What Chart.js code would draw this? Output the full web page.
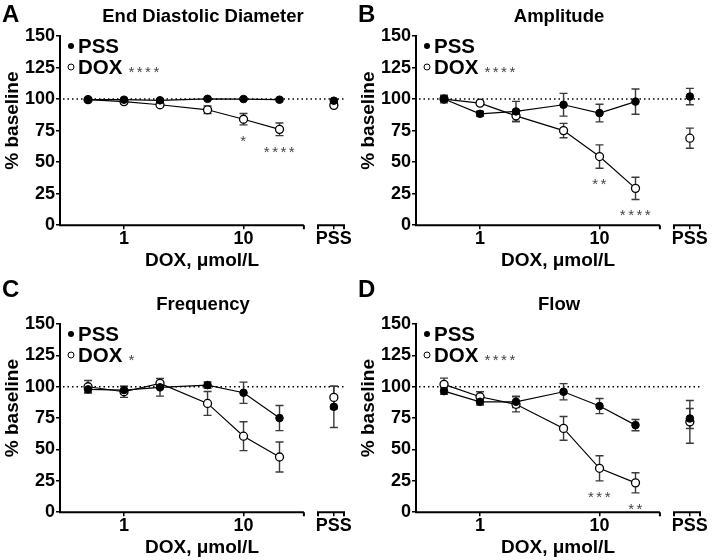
<!DOCTYPE html>
<html>
<head>
<meta charset="utf-8">
<script src="https://cdn.jsdelivr.net/npm/chart.js@4.4.0/dist/chart.umd.min.js"></script>
<style>
  body { margin: 0; background: #fff; }
  #grid { display: grid; grid-template-columns: 356px 356px; grid-template-rows: 280px 280px; width: 712px; }
  canvas { display: block; }
</style>
</head>
<body>
<div id="grid">
  <canvas id="pA" width="356" height="280"></canvas>
  <canvas id="pB" width="356" height="280"></canvas>
  <canvas id="pC" width="356" height="280"></canvas>
  <canvas id="pD" width="356" height="280"></canvas>
</div>
<script>
// doses on the log axis, plus where the PSS-only column sits
const doses = [0.5, 1, 2, 5, 10, 20];
const doseTicks = [1, 10];
const pssPos = 57;

// A - End diastolic diameter (% baseline, mean and SEM)
const eddPss = [99.5, 99.5, 99, 100.2, 100, 99.5];
const eddPssErr = [1, 1, 1, 1, 1, 1];
const eddDox = [99.5, 98, 95.5, 91.5, 84, 76];
const eddDoxErr = [1, 1.5, 1.5, 3, 4.5, 5];
const eddCtl = [98.7, 95];      // PSS column: PSS, DOX
const eddCtlErr = [1, 1];
const eddStars = ['', '', '', '', '*', '****'];

// B - Amplitude
const ampPss = [100, 88.3, 90.2, 95.5, 88.9, 98];
const ampPssErr = [3, 2, 8, 9, 7, 10];
const ampDox = [100, 96.8, 86.7, 75, 54.4, 29.2];
const ampDoxErr = [2, 1.5, 4.5, 5.7, 9.3, 8.8];
const ampCtl = [102, 69];
const ampCtlErr = [6.5, 8];
const ampStars = ['', '', '', '', '**', '****'];

// C - Frequency
const frqPss = [97.9, 97.3, 99.5, 101.3, 95.2, 75];
const frqPssErr = [2.5, 3, 7, 2.5, 8.5, 10];
const frqDox = [100, 96, 102.7, 86.7, 60.6, 44];
const frqDoxErr = [5, 4.5, 4, 9.5, 11.5, 12];
const frqCtl = [84, 91.5];
const frqCtlErr = [16.5, 9];
const frqStars = ['', '', '', '', '', ''];

// D - Flow
const flwPss = [96.5, 88, 88, 96, 84.6, 69.4];
const flwPssErr = [2.5, 2.5, 4.5, 6.5, 6, 4.5];
const flwDox = [101.9, 92, 86, 66.8, 35, 23.4];
const flwDoxErr = [5, 4, 6, 9.5, 10, 8];
const flwCtl = [74.7, 72];
const flwCtlErr = [8, 17];
const flwStars = ['', '', '', '', '***', '**'];

const letters = ['A', 'B', 'C', 'D'];
const titles = ['End Diastolic Diameter', 'Amplitude', 'Frequency', 'Flow'];
const legendStars = ['****', '****', '*', '****'];

const FONT = "'Liberation Sans', Arial, Helvetica, sans-serif";
Chart.defaults.font.family = FONT;
Chart.defaults.color = '#000';

// x range in dose units, and where the axis line breaks
const xMin = 0.2913, xMax = 69.3, mainEnd = 32, ctlStart = 42;

function drawStars(ctx, s, x, y) {
  ctx.letterSpacing = '2.5px';
  ctx.fillText(s, x, y);
  ctx.letterSpacing = '0px';
}

const panelText = {
  id: 'panelText',
  beforeDatasetsDraw(chart, args, o) {
    const {ctx, chartArea: a, scales: {x, y}} = chart;
    ctx.save();
    // dotted 100% line
    ctx.strokeStyle = '#000';
    ctx.lineWidth = 1.5;
    ctx.setLineDash([1.5, 3]);
    const y100 = y.getPixelForValue(100);
    ctx.beginPath();
    ctx.moveTo(a.left + 3, y100);
    ctx.lineTo(a.right, y100);
    ctx.stroke();
    ctx.setLineDash([]);
    // error bars
    ctx.strokeStyle = '#3a3a3a';
    ctx.lineWidth = 1.4;
    chart.data.datasets.forEach((ds, i) => {
      chart.getDatasetMeta(i).data.forEach((pt, j) => {
        const v = ds.data[j].y, e = ds.errors[j];
        const t = y.getPixelForValue(v + e), b = y.getPixelForValue(v - e);
        ctx.beginPath();
        ctx.moveTo(pt.x, t); ctx.lineTo(pt.x, b);
        ctx.moveTo(pt.x - 4, t); ctx.lineTo(pt.x + 4, t);
        ctx.moveTo(pt.x - 4, b); ctx.lineTo(pt.x + 4, b);
        ctx.stroke();
      });
    });
    ctx.restore();
  },
  afterDraw(chart, args, o) {
    const {ctx, chartArea: a, scales: {x, y}} = chart;
    ctx.save();
    // broken x axis
    ctx.strokeStyle = '#000';
    ctx.lineWidth = 2;
    const xe = x.getPixelForValue(mainEnd), xs = x.getPixelForValue(ctlStart);
    ctx.beginPath();
    ctx.moveTo(a.left - 1, a.bottom); ctx.lineTo(xe, a.bottom);
    ctx.moveTo(xe, a.bottom); ctx.lineTo(xe, a.bottom + 4);
    ctx.moveTo(xs, a.bottom + 4); ctx.lineTo(xs, a.bottom);
    ctx.lineTo(a.right, a.bottom); ctx.lineTo(a.right, a.bottom + 4);
    ctx.stroke();

    ctx.fillStyle = '#000';
    // panel letter
    ctx.font = 'bold 24px ' + FONT;
    ctx.textAlign = 'left';
    ctx.textBaseline = 'alphabetic';
    ctx.fillText(o.letter, 2, o.letterY);
    // title
    ctx.font = 'bold 18.5px ' + FONT;
    ctx.textAlign = 'center';
    ctx.fillText(o.title, (a.left + a.right) / 2 + 1, a.top - 14);
    // y title
    ctx.save();
    ctx.translate(13, (a.top + a.bottom) / 2 - 10);
    ctx.rotate(-Math.PI / 2);
    ctx.font = 'bold 19px ' + FONT;
    ctx.textBaseline = 'middle';
    ctx.fillText('% baseline', 0, 0);
    ctx.restore();

    // legend
    const lx = a.left + 11, r1 = a.top + 10, r2 = a.top + 31;
    ctx.beginPath(); ctx.arc(lx, r1, 3, 0, Math.PI * 2); ctx.fill();
    ctx.beginPath(); ctx.arc(lx, r2, 3, 0, Math.PI * 2);
    ctx.fillStyle = '#fff'; ctx.fill();
    ctx.lineWidth = 1; ctx.strokeStyle = '#000'; ctx.stroke();
    ctx.fillStyle = '#000';
    ctx.font = 'bold 20.5px ' + FONT;
    ctx.textAlign = 'left';
    ctx.textBaseline = 'middle';
    ctx.fillText('PSS', lx + 7, r1 + 1);
    ctx.fillText('DOX', lx + 7, r2 + 1);
    const dw = ctx.measureText('DOX').width;
    ctx.fillStyle = '#444';
    ctx.font = '15px ' + FONT;
    ctx.textBaseline = 'alphabetic';
    drawStars(ctx, o.legendStars, lx + 7 + dw + 6, r2 + 10);

    // significance under DOX points
    ctx.textAlign = 'center';
    const ds = chart.data.datasets[2];
    const meta = chart.getDatasetMeta(2);
    ds.stars.forEach((s, j) => {
      if (!s) return;
      const pt = meta.data[j];
      const b = y.getPixelForValue(ds.data[j].y - ds.errors[j]);
      drawStars(ctx, s, pt.x + 1, b + 21);
    });
    ctx.restore();
  }
};

function makePanel(id, k, pss, pssErr, dox, doxErr, ctl, ctlErr, stars, row) {
  const pts = vals => doses.map((d, i) => ({x: d, y: vals[i]}));
  const filled = {borderColor: '#000', borderWidth: 1.2, pointBackgroundColor: '#000',
    pointBorderColor: '#000', pointRadius: 3.8, pointBorderWidth: 1, tension: 0};
  const open = {borderColor: '#000', borderWidth: 1.2, pointBackgroundColor: '#fff',
    pointBorderColor: '#000', pointRadius: 4, pointBorderWidth: 1.3, tension: 0};
  const datasets = [
    {label: 'PSS', data: pts(pss), errors: pssErr, ...filled},
    {label: 'PSS (PSS)', data: [{x: pssPos, y: ctl[0]}], errors: [ctlErr[0]], showLine: false, ...filled},
    {label: 'DOX', data: pts(dox), errors: doxErr, stars: stars, ...open},
    {label: 'DOX (PSS)', data: [{x: pssPos, y: ctl[1]}], errors: [ctlErr[1]], showLine: false, ...open}
  ];
  new Chart(document.getElementById(id), {
    type: 'line',
    data: {datasets},
    options: {
      responsive: false,
      animation: false,
      layout: {padding: {top: row.top, bottom: row.bottom, left: 0, right: 12}},
      plugins: {
        legend: {display: false},
        tooltip: {enabled: false},
        panelText: {letter: letters[k], title: titles[k], legendStars: legendStars[k], letterY: row.letterY}
      },
      scales: {
        x: {
          type: 'logarithmic',
          min: xMin,
          max: xMax,
          afterBuildTicks: s => { s.ticks = [...doseTicks, pssPos].map(v => ({value: v})); },
          ticks: {
            callback: v => v === pssPos ? 'PSS' : String(v),
            font: {size: 18, weight: 'bold', lineHeight: 1},
            color: '#000', padding: 1, maxRotation: 0, autoSkip: false
          },
          grid: {drawOnChartArea: false, drawTicks: true, tickLength: 4, color: '#000', lineWidth: 1.5},
          border: {display: false},
          title: {display: true, text: 'DOX, μmol/L', font: {size: 19, weight: 'bold'}, color: '#000', padding: 0}
        },
        y: {
          min: 0,
          max: 150,
          ticks: {stepSize: 25, font: {size: 18, weight: 'bold'}, color: '#000', padding: 1},
          grid: {drawOnChartArea: false, tickLength: 4, color: '#000', lineWidth: 1.5},
          border: {color: '#000', width: 2},
          afterFit: s => { s.width = 60; }
        }
      }
    },
    plugins: [panelText]
  });
}

const topRow = {top: 36, bottom: 8, letterY: 22};
const bottomRow = {top: 44, bottom: 1, letterY: 16.5};

makePanel('pA', 0, eddPss, eddPssErr, eddDox, eddDoxErr, eddCtl, eddCtlErr, eddStars, topRow);
makePanel('pB', 1, ampPss, ampPssErr, ampDox, ampDoxErr, ampCtl, ampCtlErr, ampStars, topRow);
makePanel('pC', 2, frqPss, frqPssErr, frqDox, frqDoxErr, frqCtl, frqCtlErr, frqStars, bottomRow);
makePanel('pD', 3, flwPss, flwPssErr, flwDox, flwDoxErr, flwCtl, flwCtlErr, flwStars, bottomRow);
</script>
</body>
</html>
